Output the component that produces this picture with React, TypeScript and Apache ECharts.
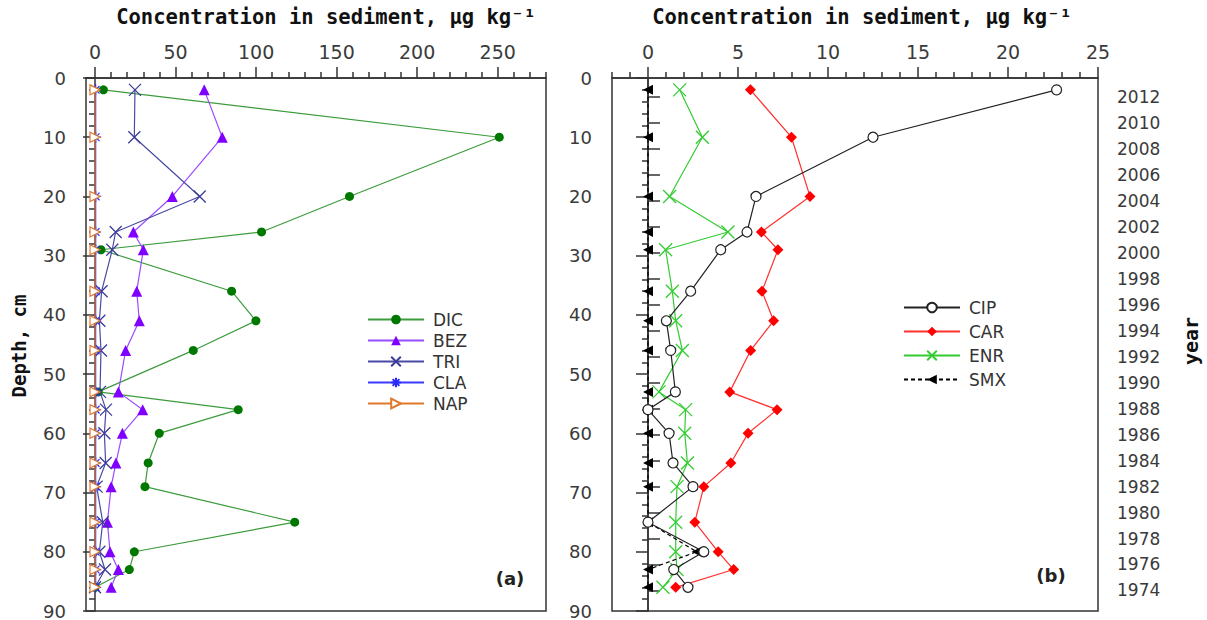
import React, { useEffect, useRef } from "react";
import * as echarts from "echarts";

// Sampling depths (cm) shared by every profile
const depths = [2, 10, 20, 26, 29, 36, 41, 46, 53, 56, 60, 65, 69, 75, 80, 83, 86];

// Panel (a) concentrations, µg kg-1
const dic = [5.2, 251, 158, 103.4, 3.7, 84.8, 99.9, 61, 2, 88.9, 39.9, 33, 31, 124, 24.4, 21.3, 0];
const bez = [67.8, 79, 48, 23.8, 30, 25.9, 27.5, 19, 14.5, 29.6, 17, 13, 10, 7.7, 9.3, 14.5, 10];
const tri = [24.8, 24.4, 65, 12.8, 10.7, 4.1, 2.7, 3.7, 3.1, 6.8, 5.8, 6.6, 1, 4.8, 2.7, 6.2, 0];
const cla = [0.4, 0.4, 0.4, 0.4, 0.4, 0.4, 0.4, 0.4, 0.4, 0.4, 0.4, 0.4, 0.4, 0.4, 0.4, 0.4, 0.4];
const nap = [0, 0, 0, 0, 0, 0, 0, 0, 0, 0, 0, 0, 0, 0, 0, 0, 0];

// Panel (b) concentrations, µg kg-1
const cip = [22.7, 12.5, 6.0, 5.5, 4.04, 2.37, 1.02, 1.26, 1.52, 0, 1.17, 1.39, 2.5, 0, 3.1, 1.43, 2.22];
const car = [5.69, 7.97, 9.0, 6.3, 7.22, 6.33, 6.98, 5.7, 4.54, 7.17, 5.56, 4.6, 3.1, 2.6, 3.9, 4.76, 1.54];
const enr = [1.76, 3.02, 1.2, 4.44, 0.98, 1.35, 1.54, 1.91, 0.61, 2.09, 2.04, 2.19, 1.61, 1.54, 1.54, 1.61, 0.83];
const smx = [0, 0, 0, 0, 0, 0, 0, 0, 0, 0, 0, 0, 0, 0, 2.7, 0, 0];

// Tick values
const ticksA = [0, 50, 100, 150, 200, 250];
const minorTicksA = [10, 20, 30, 40, 60, 70, 80, 90, 110, 120, 130, 140, 160, 170, 180, 190, 210, 220, 230, 240, 260, 270, 280];
const ticksB = [0, 5, 10, 15, 20, 25];
const minorTicksB = [-2, -1, 1, 2, 3, 4, 6, 7, 8, 9, 11, 12, 13, 14, 16, 17, 18, 19, 21, 22, 23, 24];
const yearTicks = [1974, 1976, 1978, 1980, 1982, 1984, 1986, 1988, 1990, 1992, 1994, 1996, 1998, 2000, 2002, 2004, 2006, 2008, 2010, 2012];

const TITLE = "Concentration in sediment, µg kg⁻¹";
const SANS = "DejaVu Sans";
const MONO = "DejaVu Sans Mono";
const AXIS = "#333";

const crossPath = "path://M0,0L10,10M10,0L0,10";
const starPath = "path://M5,0L5,10M0,5L10,5M1.5,1.5L8.5,8.5M8.5,1.5L1.5,8.5";

const pairs = (vals: number[]) => vals.map((v, i) => [v, depths[i]]);

function App() {
  const ref = useRef<HTMLDivElement>(null);

  useEffect(() => {
    if (!ref.current) return;
    const chart = echarts.init(ref.current, null, { renderer: "svg" });

    const majorX = (gridIndex: number, min: number, max: number, ticks: number[]) => ({
      type: "value",
      gridIndex,
      position: "top",
      min,
      max,
      axisLine: { show: true, lineStyle: { color: AXIS, width: 1.5 } },
      axisTick: { show: true, customValues: ticks, length: 11, lineStyle: { color: AXIS, width: 1.5 } },
      axisLabel: { customValues: ticks, margin: 17, fontSize: 19, fontFamily: SANS, color: "#3a3a3a" },
      splitLine: { show: false },
    });
    const minorX = (gridIndex: number, min: number, max: number, ticks: number[]) => ({
      type: "value",
      gridIndex,
      position: "top",
      min,
      max,
      axisLine: { show: false },
      axisTick: { show: true, customValues: ticks, length: 6, lineStyle: { color: AXIS, width: 1.5 } },
      axisLabel: { show: false },
      splitLine: { show: false },
    });
    const depthY = (gridIndex: number) => ({
      type: "value",
      gridIndex,
      inverse: true,
      min: 0,
      max: 90,
      interval: 10,
      position: "left",
      axisLine: { show: true, lineStyle: { color: AXIS, width: 1.5 } },
      axisTick: { show: true, length: 12, lineStyle: { color: AXIS, width: 1.5 } },
      minorTick: { show: true, splitNumber: 5, length: 6, lineStyle: { color: AXIS, width: 1.5 } },
      axisLabel: { margin: 20, fontSize: 18, fontFamily: SANS, color: "#3a3a3a" },
      splitLine: { show: false },
      minorSplitLine: { show: false },
    });

    const line = (
      name: string,
      vals: number[],
      xAxisIndex: number,
      yAxisIndex: number,
      opts: any
    ) => ({
      name,
      type: "line",
      xAxisIndex,
      yAxisIndex,
      data: pairs(vals),
      symbol: opts.symbol,
      symbolSize: opts.size,
      symbolRotate: opts.rotate || 0,
      itemStyle: {
        color: opts.fill,
        borderColor: opts.stroke || opts.fill,
        borderWidth: opts.borderWidth ?? 0,
      },
      lineStyle: { color: opts.line, width: 1.2, type: opts.dash ? [4, 3] : "solid" },
      emphasis: { disabled: true },
      z: opts.z || 2,
    });

    chart.setOption({
      animation: false,
      grid: [
        { left: 86, top: 78, width: 460, height: 536, show: true, borderColor: AXIS, borderWidth: 1.5, backgroundColor: "transparent" },
        { left: 612, top: 78, width: 486, height: 536, show: true, borderColor: AXIS, borderWidth: 1.5, backgroundColor: "transparent" },
      ],
      xAxis: [
        majorX(0, -5.6, 280, ticksA),
        minorX(0, -5.6, 280, minorTicksA),
        majorX(1, -2, 25, ticksB),
        minorX(1, -2, 25, minorTicksB),
      ],
      yAxis: [
        depthY(0),
        depthY(1),
        {
          type: "value",
          gridIndex: 1,
          position: "right",
          min: 1972.42,
          max: 2013.45,
          axisLine: { show: true, lineStyle: { color: AXIS, width: 1.5 } },
          axisTick: { show: true, customValues: yearTicks, length: 12, lineStyle: { color: AXIS, width: 1.5 } },
          axisLabel: {
            customValues: yearTicks,
            margin: 19,
            fontSize: 17,
            fontFamily: SANS,
            color: "#3a3a3a",
            formatter: (v: number) => String(Math.round(v)),
          },
          splitLine: { show: false },
        },
      ],
      legend: [
        {
          data: ["DIC", "BEZ", "TRI", "CLA", "NAP"],
          orient: "vertical",
          left: 362,
          top: 306,
          itemWidth: 56,
          itemHeight: 12,
          itemGap: 4,
          selectedMode: false,
          textStyle: { fontSize: 17, fontFamily: SANS, color: "#333", padding: [0, 0, 0, 4] },
        },
        {
          data: ["CIP", "CAR", "ENR", "SMX"],
          orient: "vertical",
          left: 898,
          top: 294,
          itemWidth: 56,
          itemHeight: 12,
          itemGap: 7,
          selectedMode: false,
          textStyle: { fontSize: 17, fontFamily: SANS, color: "#333", padding: [0, 0, 0, 4] },
        },
      ],
      series: [
        line("DIC", dic, 0, 0, { symbol: "circle", size: 9, fill: "#007800", line: "#3c9c3c" }),
        line("BEZ", bez, 0, 0, { symbol: "triangle", size: 11, fill: "#8000ff", line: "#9a4cff" }),
        line("TRI", tri, 0, 0, { symbol: crossPath, size: 12, fill: "#3c3c96", stroke: "#3c3c96", borderWidth: 1.3, line: "#4a4aa6" }),
        line("CLA", cla, 0, 0, { symbol: starPath, size: 11, fill: "#2a2aff", stroke: "#2a2aff", borderWidth: 1.2, line: "#3a3aff", z: 3 }),
        line("NAP", nap, 0, 0, { symbol: "triangle", rotate: -90, size: 10, fill: "#ffffff", stroke: "#e0782c", borderWidth: 1.2, line: "#e0782c", z: 4 }),
        line("CIP", cip, 2, 1, { symbol: "circle", size: 10, fill: "#ffffff", stroke: "#222", borderWidth: 1.2, line: "#222", z: 4 }),
        line("CAR", car, 2, 1, { symbol: "diamond", size: 11, fill: "#ff0000", line: "#ff3030" }),
        line("ENR", enr, 2, 1, { symbol: crossPath, size: 13, fill: "#33cc33", stroke: "#33cc33", borderWidth: 1.3, line: "#33cc33" }),
        line("SMX", smx, 2, 1, { symbol: "triangle", rotate: 90, size: 10, fill: "#000000", line: "#000000", dash: true, z: 3 }),
      ],
      graphic: [
        {
          type: "text",
          x: 326,
          y: 17,
          style: { text: TITLE, font: `bold 20.5px '${MONO}'`, fill: "#111", align: "center", verticalAlign: "middle" },
        },
        {
          type: "text",
          x: 862,
          y: 17,
          style: { text: TITLE, font: `bold 20.5px '${MONO}'`, fill: "#111", align: "center", verticalAlign: "middle" },
        },
        {
          type: "text",
          x: 19,
          y: 346,
          rotation: Math.PI / 2,
          style: { text: "Depth, cm", font: `bold 19px '${MONO}'`, fill: "#111", align: "center", verticalAlign: "middle" },
        },
        {
          type: "text",
          x: 1191,
          y: 341,
          rotation: Math.PI / 2,
          style: { text: "year", font: `bold 20px '${MONO}'`, fill: "#111", align: "center", verticalAlign: "middle" },
        },
        {
          type: "text",
          x: 510,
          y: 578,
          style: { text: "(a)", font: `bold 18px '${SANS}'`, fill: "#222", align: "center", verticalAlign: "middle" },
        },
        {
          type: "text",
          x: 1051,
          y: 575,
          style: { text: "(b)", font: `bold 18px '${SANS}'`, fill: "#222", align: "center", verticalAlign: "middle" },
        },
      ],
    });

    return () => chart.dispose();
  }, []);

  return (
    <div
      ref={ref}
      style={{ position: "fixed", left: 0, top: 0, width: 1207, height: 620, background: "#fff" }}
    />
  );
}

export default App;
